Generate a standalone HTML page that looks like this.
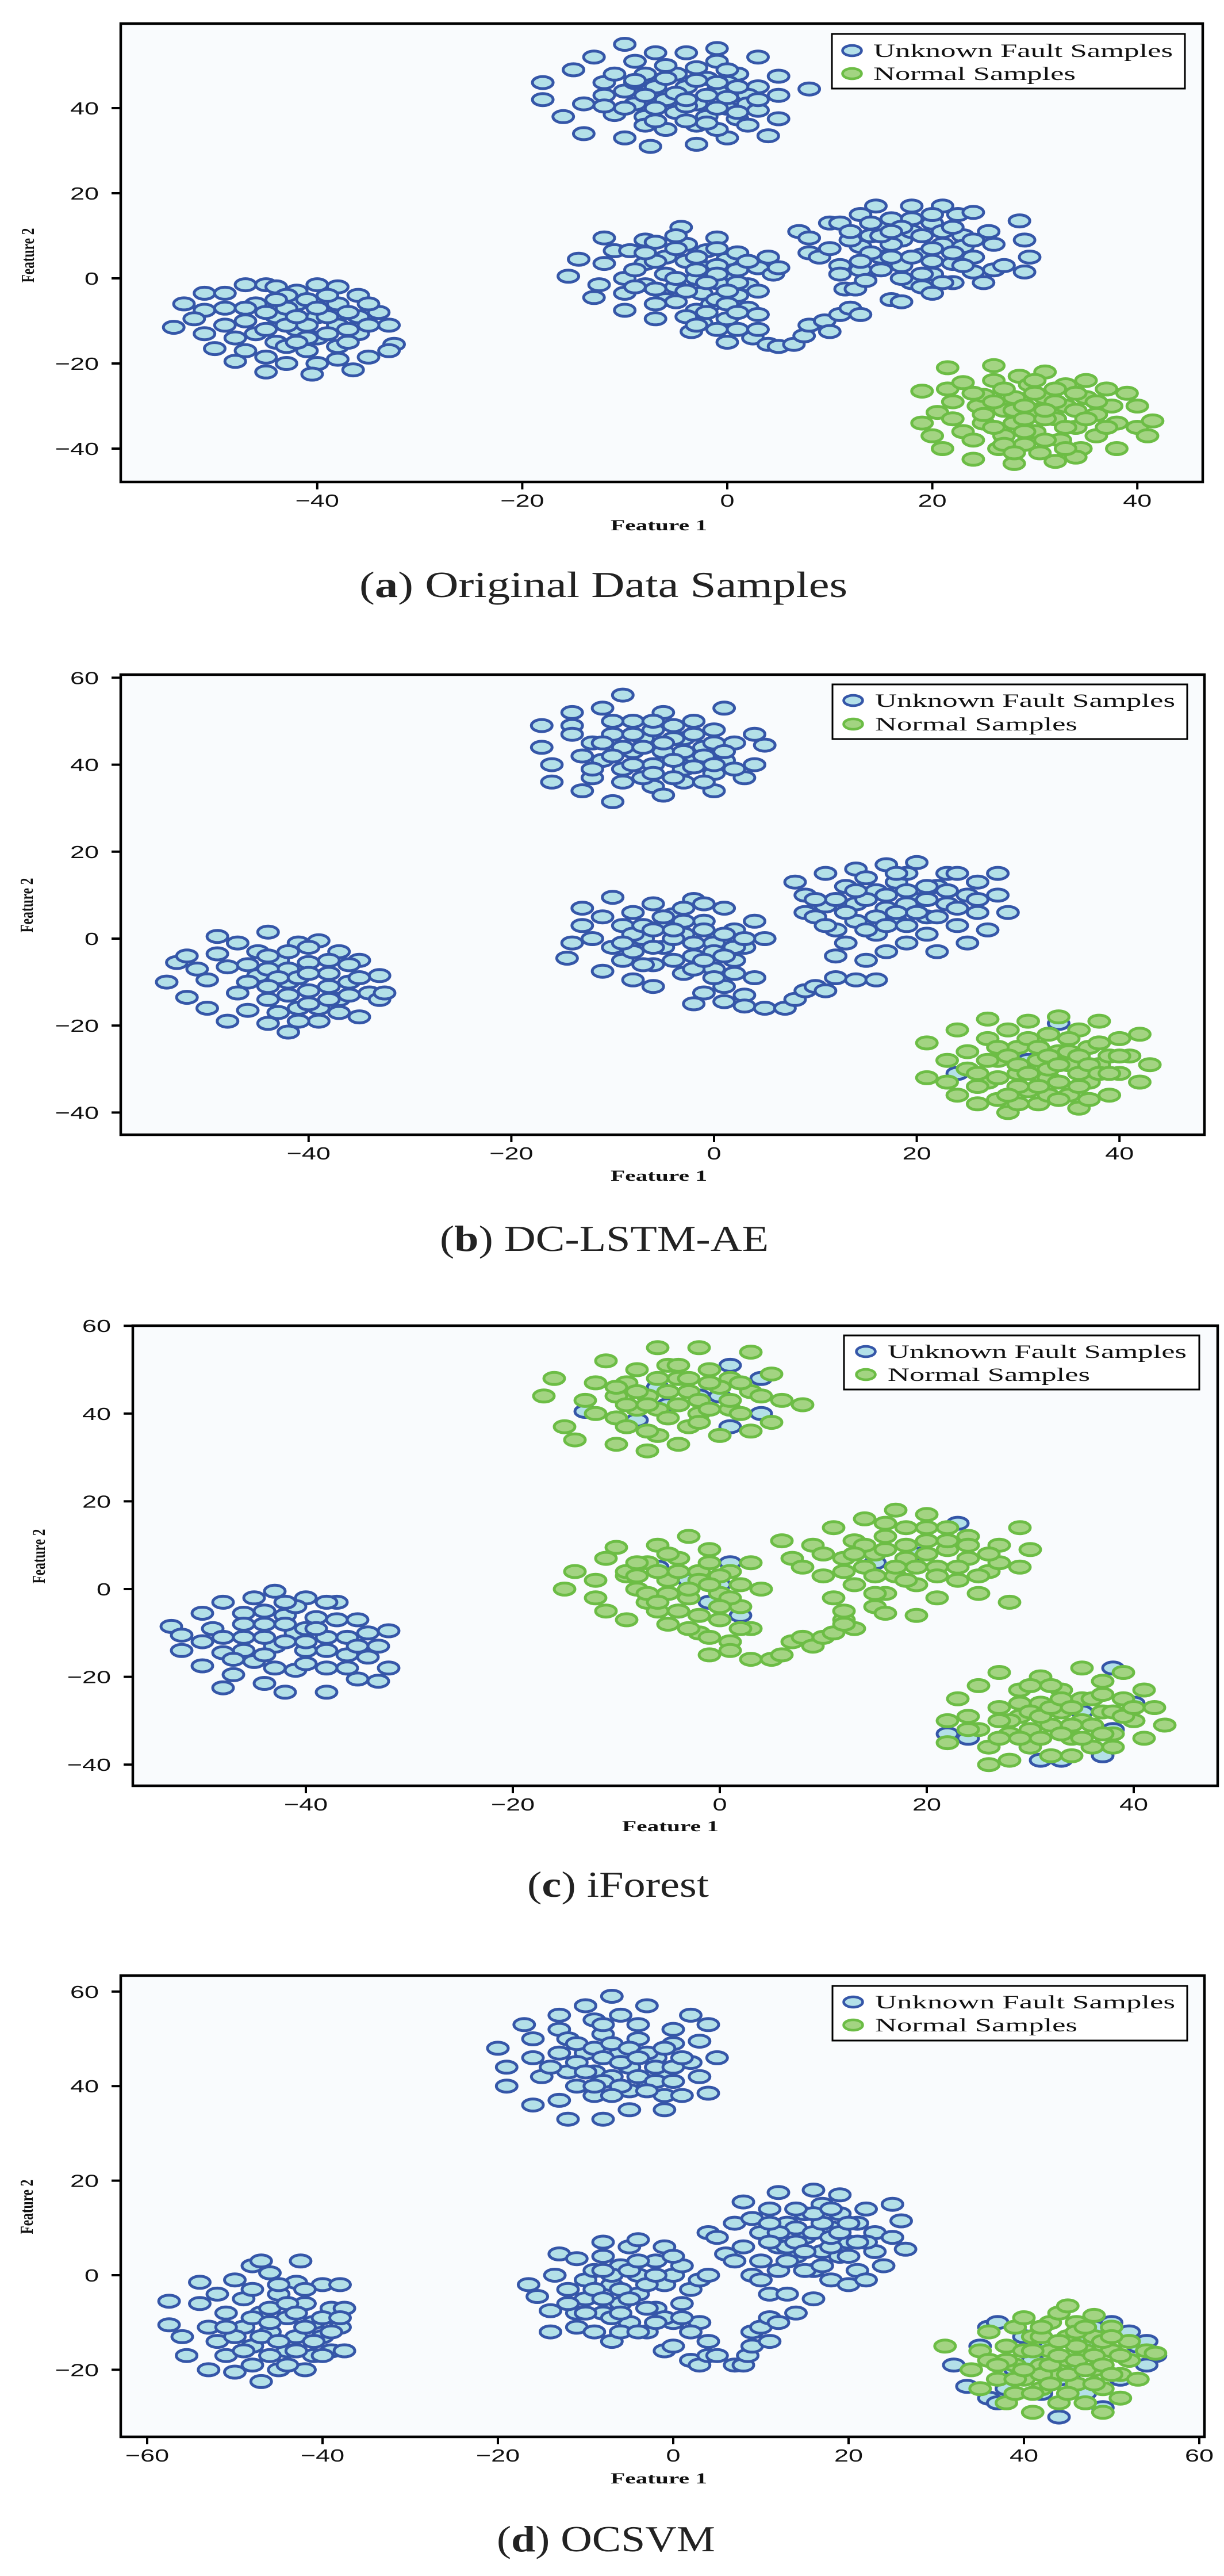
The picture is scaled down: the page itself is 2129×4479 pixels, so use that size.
<!DOCTYPE html>
<html><head><meta charset="utf-8">
<style>
html,body{margin:0;padding:0;background:#fff;}
svg{display:block;}
.tick{font-family:"Liberation Sans",sans-serif;font-size:31px;fill:#111;}
.axl{font-family:"Liberation Serif",serif;font-weight:bold;fill:#111;}
.leg{font-family:"Liberation Serif",serif;font-size:33px;fill:#111;}
.cap{font-family:"Liberation Serif",serif;font-size:64px;fill:#222;}
</style></head>
<body>
<svg id="fig" width="2129" height="4479" viewBox="0 0 2129 4479" xmlns="http://www.w3.org/2000/svg"></svg>
<script>
// ---------- tick values ----------
const aXTicks=[-40,-20,0,20,40], aYTicks=[-40,-20,0,20,40];
const bXTicks=[-40,-20,0,20,40], bYTicks=[-40,-20,0,20,40,60];
const cXTicks=[-40,-20,0,20,40], cYTicks=[-40,-20,0,20,40,60];
const dXTicks=[-60,-40,-20,0,20,40,60], dYTicks=[-20,0,20,40,60];
const captions=["a","b","c","d"];
const captionTexts=[" Original Data Samples"," DC-LSTM-AE"," iForest"," OCSVM"];
const legendLabels=["Unknown Fault Samples","Normal Samples"];

// ---------- panel (a) data [x,y,...] ----------
const aBlue=[
-10,55,-1,54,-7,53,-4,53,-13,52,3,52,-9,51,-1,51,-15,49,-18,46,-12,46,-18,42,-14,41,-16,38,-14,34,-10,33,-7.5,31,-3,31.5,0,33,4,33.5,5,37.5,5,43,8,44.5,5,47.5,3,45,1,48,
-11,48,-8,48,-5,48,-2,47,0,46,-10,44,-7,45,-4,45,-1,44,2,43,-12,43,-9,41,-6,42,-3,41,0,40,2,41,-11,38.5,-8,38,-5,39,-2,38,1,37.5,3,39.5,-6,35,-3,36,-1,35,2,36,-8,36,
-9,46,-6,47,-3,46.5,-1,46,1,45,-8,43,-5,43.5,-2,43,0,42.5,-10,40,-7,40,-4,40.5,-1,40,1,39,-7,37,-4,37,-2,36.5,-6,50,-3,49.5,0,49,-12,40.5,3,42,-9,46.5,-4,42,
-54,-11.5,-53,-6,-51,-7.5,-51,-3.5,-49,-3.5,-47,-1.5,-45,-1.5,-44,-2,-42,-3,-40,-1.5,-38,-2,-36,-4,-34,-8,-33,-11,-32.5,-15.5,-33,-17,-35,-18.5,-36.5,-21.5,-38,-19,-40,-20,-40.5,-22.5,-43,-20,-45,-22,-45,-18.5,-48,-19.5,-47,-17,-50,-16.5,-51,-13,-52,-9.5,-49,-11,-49,-7,-47,-10,-46,-13,-46,-6,-44,-9,-44,-15,-42,-12,-42,-6,-41,-17,-40,-9,-40,-14,-38,-6,-38,-11,-38,-16,-36,-9,-36,-13,-35,-6,-48,-14,-43,-4,
-45,-8,-43,-7,-41,-5,-39,-4,-37,-8,-43,-11,-41,-11,-39,-13,-37,-12,-45,-12,-43,-16,-41,-14,-39,-9,-47,-7,-44,-5,-42,-9,-40,-7,-37,-15,-35,-11,-42,-15,
-15.5,0.5,-14.5,4.5,-13,-4.5,-12.5,-1.5,-12,3.5,-12,9.5,-11,6.5,-10,-3.5,-10,0,-10,-7.5,-9.5,6.5,-8,9,-8,3.5,-8,-1.5,-7,-9.5,-7,8.5,-6,5,-6,-5,-6,1,-5,-2,-4.5,12,-4,8,-4,4,-3,-7.5,-3,0,-2.5,-3.5,-2,6.5,-2,2.5,-1.5,-6,-1,9.5,-1,-1,0,4.5,0,-9.5,0.5,1,1,-4,1,6,2,-7,2,-1.5,3,2.5,3,-3,4,5,4.5,1,5,2.5,-3.5,-12.5,-2.5,-10.5,0,-15,1,-12,2.5,-14,3,-12,3,-8.5,4,-15.5,5,-16,6.5,-15.5,7.5,-13.5,8,-11,9.5,-10,10,-12.5,11,-8.5,12,-7,13,-8.5,-5,-5.5,-1,-5,
-9,2,-7,4,-5,7,-3,5,-1,3,1,2,-9,-2,-7,-2.5,-5,0,-3,2,-1,1,1,-1,-7,-6,-4,-3,-2,-1,0,-3,-4,-9,-2,-8,0,-6,-8,6,-5,10,-1,7,2,4,-3,-11,-1,-12,1,-8,
7,11,8,9.5,8,6,9,5,10,7,10,13,11,13,11,3,11,1,11.5,-2.5,12.5,-2.5,13,7.5,13,15,13,2,13.5,-0.5,14,10,14.5,17,15,5,15,12.5,16,14,16,-5,17,-5.5,17,9,17,3,18,17,18,11,18,-1,19,5.5,19,-2,20,13,20,1,20,-3.5,21,17,21,8,22,3.5,22,-1,22.5,15,23,10,23,7.5,24,15.5,24,5,24,1.5,25,-1,25.5,11,26,8,26,2,27,3,28.5,13.5,29,9,29.5,5,29,1.5,16,8,20,7,18,14,12,9,14,6,
15,10,17,12,19,10,21,11,16,5,18,5,20,4,22,6,15,2,17,0,19,1,21,-1,23,3,14,13,16,11,20,15,22,12,24,9,13,4,12,11];
const aGreen=[
19,-26.5,19,-34,20,-37,21,-40,20.5,-31.5,21.5,-21,21.5,-26,22,-29,22,-33,23,-36,23,-24.5,24,-38,24,-42.5,24.5,-30,25,-27.5,25,-34,26,-20.5,26,-24,26.5,-40,27,-31,27,-37,28,-43.5,28,-28,28,-34,28.5,-23,29,-39,29.5,-25,30,-31,30,-36,30.5,-41,31,-22,31,-28,32,-33,32,-43,32.5,-38,33,-25,33,-30,34,-35,34.5,-40,35,-24,35,-28,36,-32,36,-37,37,-26,37.5,-30,38,-34,38,-40,39,-27,40,-30,40,-35,41,-37,41.5,-33.5,34,-42,26,-35,
26,-29,27,-26,28,-31,29,-33,30,-27,31,-33,32,-29,33,-35,34,-31,35,-33,29,-36,31,-38,33,-40,27,-39,25,-32,24,-27,30,-24,32,-26,34,-27,36,-29,37,-35,28,-41,29,-30,31,-31];

// ---------- panel (b) data ----------
const bBlue=[
-9,56,-11,53,-14,52,-5,52,1,53,-17,49,-14,49,-8,50,-4,49,0,48,4,47,-17,44,-14,47,-12,45,-10,47,-7,46,-3,46,2,45,5,44.5,-16,40,-13,42,-11,41,-8,43,-5,43,-2,42,1,41,4,40,-16,36,-12,37,-9,39,-6,40,-3,39,0,38,3,37,-13,34,-9,36,-6,35,-3,36,-10,31.5,-5,33,0,34,-7,37,-1,44,-10,50,
-8,47,-6,48,-4,46,-2,47,0,45,-9,44,-7,44,-5,45,-3,43,-1,42,1,43,-10,42,-8,40,-4,41,-2,39.5,0,40,-6,38,-4,37,-1,36,2,39,-11,45,-12,39,-6,50,-2,50,
-54,-10,-53,-5.5,-52,-4,-51,-7,-52,-13.5,-50,-9.5,-50,-16,-49,0.5,-49,-3.5,-48,-6.5,-48,-19,-47,-1,-47,-12.5,-46,-16.5,-45,-3,-45,-8.5,-44,1.5,-44,-14,-44,-19.5,-43,-5,-42,-10,-42,-21.5,-41,-1,-41,-16,-40,-5.5,-40,-12,-39,-19,-39,-0.5,-38,-8,-37,-14,-37,-3,-36,-10,-35,-18,-35,-5,-34,-12.5,-33,-8.5,-33,-14,-32.5,-12.5,-46,-10,-42,-7,-39,-16,
-44,-7,-43,-9,-41,-9,-40,-8,-38,-11,-36,-13,-44,-11,-42,-13,-40,-15,-38,-14,-46,-6,-44,-4,-42,-3,-40,-2,-38,-5,-36,-6,-43,-17,-41,-19,-37,-17,-35,-9,
-14.5,-4.5,-14,-1,-13,3,-13,7,-12,0,-11,5,-11,-7.5,-10,-2,-10,9.5,-9,3,-9,-5,-8,6,-8,-9.5,-7,0,-6,-6,-6,8,-5,3,-5,-2,-4,5.5,-3,-8,-3,1,-2,-4,-2,9,-1,4,0,-1,0,-7,1,7,1,-11,2,2,2,-5,3,-13,3,-2,4,4,4,-9,5,0,-1,-12.5,-2,-15,1,-14.5,3,-15.5,5,-16,7,-16,8,-14,9,-12,10,-11,11,-12,12,-9,14,-9.5,16,-9.5,-6,-11,2,-8,
-8,1,-7,3,-5,5,-3,4,-1,2,1,1,-8,-3,-6,-2,-4,0,-2,-1,0,-3,2,-2,-6,2,-4,-5,-2,-7,0,-9,-9,-1,-7,-6,-4,2,-1,-5,-3,7,-1,8,3,0,1,-4,
8,13,9,10,9,6,10,5,11,15,11,7.5,12,2,12,-4,13,12,13,-1,14,16,14,8,14,4,15,-5,16,11,16,1,17,17,17,7,17,-3,18,13,18,4,19,15,19,-1,20,17.5,20,9,21,5,21,1,22,-3,22,12,23,15,23,8,24,3,25,10,25,-1,26,13,26,6,27,2,28,15,28,10,29,6,19,11,15,14,24,15,13,6,
15,9,17,10,19,8,21,9,23,11,16,5,18,6,20,6,22,5,15,2,17,3,19,3,21,12,14,11,18,15,12,9,24,7,26,9,10,9,11,3,
24,-31,34,-19.5,31,-28];
const bGreen=[
21,-24,21,-32,23,-28,23,-33,24,-21,24,-36,25,-26,25,-30,26,-38,27,-18.5,27,-23,27,-33,28,-28,28,-37,29,-21,29,-40,30,-25,30,-31,31,-35,31,-19,32,-28,32,-38,33,-22,33,-32,34,-18,34,-26,35,-36,35,-29,36,-21,36,-39,37,-25,37,-33,38,-19,38,-29,39,-36,40,-23,40,-31,41,-27,42,-33,42,-22,43,-29,26,-34,30,-38,33,-36,36,-31,
28,-25,29,-27,30,-29,31,-23,31,-31,32,-25,33,-27,33,-30,34,-29,34,-33,35,-23,35,-26,36,-27,37,-29,38,-31,38,-24,39,-27,39,-31,40,-27,36,-34,32,-34,30,-34,28,-32,26,-31,29,-36,34,-37,37,-37,27,-28];

// ---------- panel (c) data ----------
const cBlue=[
-53,-8.5,-52,-14,-52,-10.5,-50,-5.5,-50,-17.5,-50,-12,-49,-9,-48,-22.5,-48,-3,-48,-14.5,-47,-19.5,-46,-5.5,-46,-11,-45,-16.5,-45,-2,-44,-8,-44,-21.5,-43,-13,-43,-0.5,-42,-23.5,-42,-6,-41,-18.5,-41,-10,-40,-2,-40,-14,-39,-6.5,-38,-23.5,-38,-18,-38,-11,-37,-3,-36,-15,-35,-20.5,-35,-7,-34,-10,-34,-15.5,-33,-21,-33,-13,-32,-9.5,-32,-18,-44,-11,-40,-9,
-46,-8,-44,-5,-42,-8,-41,-4,-39,-9,-37,-7,-36,-11,-46,-14,-44,-15,-42,-12,-40,-12,-38,-14,-36,-18,-43,-18,-40,-17,-38,-3,-35,-13,-48,-11,-47,-16,-42,-3,
-13,40.5,-8,38.5,-5,42,0,44,4,40,4,48,1,51,-2,44,-6,46,1,37,
-6,5,-3,2,-1,-3,1,6,2,-6,-4,-5,0,1,
19,8,23,15,15,6,
22,-33,24,-34,31,-39,33,-39,38,-32,37,-38,38,-18,40,-26,35,-28];
const cGreen=[
-6,55,-11,52,-5,51,-2,55,3,54,-16,48,-12,47,-8,50,-4,48,1,48,5,49,-17,44,-13,43,-10,44,-7,44,-3,45,0,46,3,45,6,43,8,42,-15,37,-12,40,-10,39,-6,41,-2,40,1,41,5,38,-14,34,-10,33,-6,35,-3,37,0,35,3,36,-7,31.5,-4,33,-8,41,-1,50,-9,37,
-9,47,-6,48,-3,48,-1,47,2,47,-8,45,-5,45,-2,43,1,43,-9,42,-7,42,-4,42,-1,41,2,40,-5,39,-2,38,-7,36,-10,46,4,44,-4,51,
-15,0,-14,4,-12,-2,-12,2,-11,7,-11,-5,-10,9.5,-9,3,-9,-7,-8,0,-7,6,-7,-3,-6,10,-5,-8,-5,2,-4,7,-3,-2,-2,4,-2,-10,-1,9,0,-1,0,-7,1,4,1,-12,2,1,2,-4,3,6,3,-9,4,0,-3,12,-1,-15,1,-14,3,-16,5,-16,6,-15,7,-12,8,-11,9,-13,10,-11,11,-10,12,-7,13,-9,-6,-5,-9,4,
-8,3,-6,4,-4,4,-2,2,0,3,-7,-1,-5,-1,-3,0,-1,1,1,-2,-6,-3,-4,-5,-2,-6,0,-4,-3,-9,-1,-11,-8,6,-5,8,-1,6,2,-9,
6,11,7,7,8,5,9,10,10,3,11,14,11,-2,12,7,12,-5,13,11,13,1,14,16,14,5,15,-4,15,8,16,12,16,-1,17,3,17,18,18,14,18,7,19,-6,19,1,20,11,20,17,21,5,21,-2,22,9,22,14,23,2,24,7,24,12,25,-1,26,4,27,10,27,6,28,-3,29,14,29,5,30,9,12,-8,16,-5.5,
14,10,16,9,18,10,20,8,22,11,15,3,17,5,19,5,21,3,23,5,13,8,16,15,18,2,20,14,24,10,26,8,12,4,10,8,25,3,15,-1,
22,-30,22,-35,23,-25,24,-29,25,-22,25,-32,26,-36,27,-19,27,-27,28,-33,28,-39,29,-23,29,-29,30,-36,31,-20,31,-26,32,-31,32,-38,33,-23,33,-28,34,-34,35,-18,35,-25,35,-30,36,-36,37,-21,37,-28,38,-33,39,-19,39,-25,40,-30,41,-23,41,-34,42,-27,43,-31,30,-32,34,-38,27,-34,26,-40,
29,-26,30,-28,31,-29,32,-27,33,-25,34,-27,34,-31,36,-25,36,-31,37,-33,38,-28,39,-29,40,-27,28,-30,29,-34,31,-34,33,-33,35,-34,37,-24,30,-22,32,-22,27,-30,24,-32,38,-36];

// ---------- panel (d) data ----------
const dBlue=[
-7,59,-10,57,-3,57,-13,55,-6,55,2,55,-17,53,-13,52,-9,54,-4,53,0,52,4,53,-20,48,-16,50,-12,50,-8,51,-4,50,0,49,3,49.5,5,46,-19,44,-16,46,-13,47,-10,47,-6,47,-2,46,2,45,-19,40,-15,42,-12,43,-9,43,-5,44,-1,43,3,42,4,38.5,-16,36,-13,37,-9,38,-5,39,-1,38,1,38,-12,33,-8,33,-5,35,-1,35,-11,40,-3,41,-7,42,
-11,49,-9,48,-7,49,-5,48,-3,47,-1,48,-11,45,-8,46,-6,45,-4,46,-2,44,0,44,-10,43,-8,41,-6,40,-4,42,-2,41,0,41,-9,40,-7,38,-3,39,-14,44,1,46,-8,53,
-57.5,-5.5,-57.5,-10.5,-56,-13,-55.5,-17,-54,-1.5,-54,-6,-53,-20,-53,-11,-52,-4,-52,-14,-51,-8,-51,-17,-50,-1,-50,-20.5,-49,-11,-49,-5,-48,2,-48,-15,-48,-19,-47,-22.5,-47,-8,-47,3,-46,0.5,-46,-12,-45,-20,-45,-4,-44,-9,-44,-16,-43,-1.5,-43,-13,-42,-20,-42,-6,-41,-10,-41,-17,-40,-2,-40,-13,-39,-7,-39,-16,-38,-2,-38,-11,-37.5,-7,-37.5,-16,-42.5,3,-50,-13,-46,-7,
-48,-9,-46,-10,-44,-6,-43,-8,-42,-11,-40,-9,-39,-12,-47,-13,-45,-14,-43,-16,-41,-14,-40,-17,-49,-16,-46,-17,-44,-19,-42,-3,-45,-2,-48,-3,-51,-11,-38,-9,
-16.5,-2,-15.5,-4.5,-14,-7.5,-14,-12,-13.5,0,-13,4.5,-12,-3,-11,3.5,-11,-8,-11,-11,-10,-1,-10,-5,-9,1,-9,-12,-8,7,-8,4,-8,-8,-7,-2,-7,-14,-6,2,-6,-6,-5,6,-5,-10,-4,7.5,-4,0,-4,-4,-3,-12,-2,3,-2,-7,-1,6,-1,-2,0,-10,0,0,1,2,1,-6,2,-3,3,-1,4,0,3,-10,-1,-16,0,-15,2,-12,2,-18,3,-19,4,-17,4,-14,5,-17,7,-19,8,-19,8.5,-17,9,-15,9,-12,10,-11,11,-9,11,-14,12,-10,-6,-12,
-9,-3,-8,-5,-7,0,-6,-3,-5,1,-5,-5,-4,3,-3,-2,-3,-7,-2,0,-1,-9,-8,1,-7,-9,-4,-12,-2,-10,1,-9,-6,-8,-10,-8,-12,-6,0,4,
4,9,5,8,6,4.5,7,3,7,11,8,15.5,8,6,9,12,9,0,10,-1,10,3,10,9,11,14,11,-4,12,6,12,17.5,12,1,13,-4,13,11,14,4,14,-8,15,13,15,8,16,18,16,1,16,-5,17,15,17,5,18,-1,18,10,19,17,19,13,19,4,20,7,20,-2,21,11,21,1,22,14,22,-1,23,5,23,9,24,2,25,15,25,8,26,11.5,26.5,5.5,14,10,18,6,
12,9,13,6,14,7,15,5,16,9,17,11,18,8,19,9,20,11,13,3,15,1,17,2,16,13,20,4,22,7,11,11,14,14,18,14,21,7,11,7,
32,-19,33.5,-23.5,35,-15,36,-11,36,-26,37,-10,37,-27,38,-24,42,-25,44,-30,44,-22,47,-14,48,-11,49,-28,50,-10,52,-12,53,-15,54,-14,55,-17,54,-19,51,-22,46,-20,41,-18,40,-13,43,-15,39,-20,47,-25];
const dGreen=[
31,-15,34,-20,35,-16,35,-24,36,-12,36,-18,37,-22,38,-15,38,-27,39,-11,39,-19,39,-25,40,-9,40,-16,40,-22,41,-29,41,-13,42,-19,42,-24,43,-10,43,-16,44,-8,44,-21,44,-27,45,-6.5,45,-13,45,-18,46,-23,46,-10,47,-16,47,-27,48,-8.5,48,-13,48,-20,49,-24,49,-29,50,-16,50,-11,51,-21,51,-26,52,-14,52,-18,53,-22,54,-16,55,-16.5,42,-13,46,-15,41,-25,
41,-16,42,-21,43,-19,43,-23,44,-14,44,-17,45,-21,46,-18,46,-12,47,-20,48,-17,48,-23,49,-14,49,-19,50,-21,50,-13,51,-17,38,-18,39,-22,40,-20,37,-19,42,-11,47,-11,45,-25];

// ---------- layout (pixels) ----------
const NS="http://www.w3.org/2000/svg";
const svg=document.getElementById('fig');
const BLUE_S="#3556a8",BLUE_F="#b3e0e8",GREEN_S="#6cbd45",GREEN_F="#a3d482";
function mk(tag,attrs,parent){const e=document.createElementNS(NS,tag);for(const k in attrs)e.setAttribute(k,attrs[k]);(parent||svg).appendChild(e);return e;}

const panels=[
 {id:"a",frame:[210,41,2092,838],x0:1265,xs:17.83,y0:484,ys:7.40,xt:aXTicks,yt:aYTicks,blue:aBlue,green:aGreen,
  leg:[1447,59,2061,154],lm:1482,ly:[88,128],lt:1519,lw:[521,352],f1:[1146,922],f2:[48,444],cap:[625,1038,849]},
 {id:"b",frame:[210,1173,2095,1973],x0:1242,xs:17.63,y0:1632,ys:7.56,xt:bXTicks,yt:bYTicks,blue:bBlue,green:bGreen,
  leg:[1448,1190,2065,1285],lm:1484,ly:[1218,1259],lt:1522,lw:[522,352],f1:[1146,2053],f2:[46,1574],cap:[765,2175,572]},
 {id:"c",frame:[231,2305,2118,3105],x0:1252,xs:18.0,y0:2763,ys:7.63,xt:cXTicks,yt:cYTicks,blue:cBlue,green:cGreen,
  leg:[1468,2322,2086,2416],lm:1506,ly:[2350,2390],lt:1544,lw:[520,352],f1:[1166,3184],f2:[67,2706],cap:[917,3298,316]},
 {id:"d",frame:[210,3435,2095,4237],x0:1171,xs:15.25,y0:3956,ys:8.22,xt:dXTicks,yt:dYTicks,blue:dBlue,green:dGreen,
  leg:[1448,3453,2065,3548],lm:1484,ly:[3481,3521],lt:1522,lw:[522,352],f1:[1146,4318],f2:[46,3837],cap:[864,4436,380]}
];

panels.forEach((p,pi)=>{
  const g=mk('g',{});
  
  
  const X=v=>p.x0+p.xs*v, Y=v=>p.y0-p.ys*v;
  const [l,t,r,b]=p.frame;
  const bg=mk('rect',{x:l,y:t,width:r-l,height:b-t,fill:"#f9fbfd"},g);
  
  
  const cp=mk('clipPath',{id:'clip'+p.id},g);
  mk('rect',{x:l,y:t,width:r-l,height:b-t},cp);
  const pts=mk('g',{'clip-path':'url(#clip'+p.id+')'},g);
  
  
  const series=[[p.blue,BLUE_S,BLUE_F,'fault-sample'],[p.green,GREEN_S,GREEN_F,'normal-sample']];
  series.forEach(s=>{
    const arr=s[0];
    for(let i=0;i<arr.length;i+=2){
      const e=mk('ellipse',{cx:X(arr[i]).toFixed(1),cy:Y(arr[i+1]).toFixed(1),rx:18,ry:10.5,fill:s[2],stroke:s[1],'stroke-width':5},pts);
      
      
    }
  });
  const fr=mk('rect',{x:l,y:t,width:r-l,height:b-t,fill:"none",stroke:"#000","stroke-width":4.5},g);
  
  
  p.xt.forEach(v=>{
    const x=X(v);
    mk('line',{x1:x,y1:b,x2:x,y2:b+13,stroke:"#000","stroke-width":4},g);
    const tx=mk('text',{class:'tick','text-anchor':'middle',transform:`translate(${x.toFixed(1)},${b+43}) scale(1.45,1)`},g);
    tx.textContent=(v<0?'\u2212':'')+Math.abs(v);
    
    
  });
  p.yt.forEach(v=>{
    const y=Y(v);
    mk('line',{x1:l-16,y1:y,x2:l,y2:y,stroke:"#000","stroke-width":4},g);
    const tx=mk('text',{class:'tick','text-anchor':'end',transform:`translate(${l-38},${(y+11).toFixed(1)}) scale(1.45,1)`},g);
    tx.textContent=(v<0?'\u2212':'')+Math.abs(v);
    
    
  });
  const f1=mk('text',{class:'axl',x:p.f1[0]-84,y:p.f1[1],'font-size':26,textLength:168,lengthAdjust:'spacingAndGlyphs'},g);
  f1.textContent='Feature 1';
  
  
  const f2=mk('text',{class:'axl',x:-47.5,y:11,'font-size':32,textLength:95,lengthAdjust:'spacingAndGlyphs',transform:`translate(${p.f2[0]},${p.f2[1]}) rotate(-90)`},g);
  f2.textContent='Feature 2';
  
  
  const lg=mk('g',{},g);
  
  
  const [a1,b1,a2,b2]=p.leg;
  mk('rect',{x:a1,y:b1,width:a2-a1,height:b2-b1,fill:"#fff",stroke:"#000","stroke-width":3},lg);
  [[BLUE_S,BLUE_F],[GREEN_S,GREEN_F]].forEach((c,i)=>{
    const m=mk('ellipse',{cx:p.lm,cy:p.ly[i],rx:16.5,ry:9,fill:c[1],stroke:c[0],'stroke-width':4.6},lg);
    
    
    const t=mk('text',{class:'leg',x:p.lt,y:p.ly[i]+11,textLength:p.lw[i],lengthAdjust:'spacingAndGlyphs'},lg);
    t.textContent=legendLabels[i];
    
    
  });
  const cap=mk('text',{class:'cap',x:p.cap[0],y:p.cap[1],textLength:p.cap[2],lengthAdjust:'spacingAndGlyphs'},g);
  
  
  const s1=mk('tspan',{},cap); s1.textContent='(';
  const s2=mk('tspan',{'font-weight':'bold'},cap); s2.textContent=captions[pi];
  const s3=mk('tspan',{},cap); s3.textContent=')'+captionTexts[pi];
});
</script>
</body></html>
